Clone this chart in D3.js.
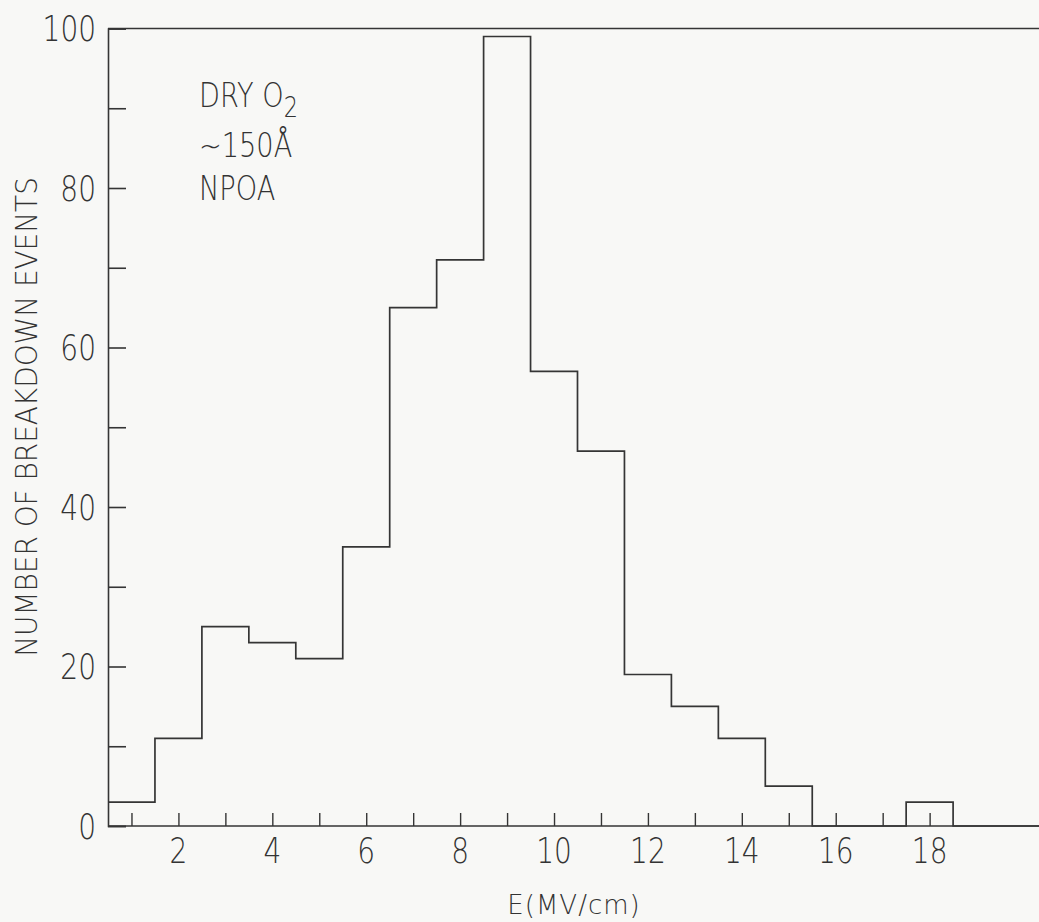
<!DOCTYPE html>
<html>
<head>
<meta charset="utf-8">
<script src="https://cdn.jsdelivr.net/npm/d3@7"></script>
<style>
  html, body { margin: 0; padding: 0; background: #f8f8f6; }
  svg { display: block; }
  text { font-family: "DejaVu Sans", sans-serif; font-weight: 200; fill: #333; }
</style>
</head>
<body>
<svg id="chart" width="1039" height="922"></svg>
<script>
// Breakdown-field histogram: bins are 1 MV/cm wide, centred on whole values.
const binCentres = [1, 2, 3, 4, 5, 6, 7, 8, 9, 10, 11, 12, 13, 14, 15, 16, 17, 18, 19, 20];
const breakdownEvents = [3, 11, 25, 23, 21, 35, 65, 71, 99, 57, 47, 19, 15, 11, 5, 0, 0, 3, 0, 0];

const xTickValues = [1, 2, 3, 4, 5, 6, 7, 8, 9, 10, 11, 12, 13, 14, 15, 16, 17, 18];
const xTickLabels = [2, 4, 6, 8, 10, 12, 14, 16, 18];
const yTickValues = [0, 10, 20, 30, 40, 50, 60, 70, 80, 90, 100];
const yTickLabels = [0, 20, 40, 60, 80, 100];

const annotationLines = ["DRY O", "~150Å", "NPOA"];
const xTitle = "E(MV/cm)";
const yTitle = "NUMBER OF BREAKDOWN EVENTS";

const svg = d3.select("#chart");
const ink = "#353535";
const squeeze = 0.8;   // narrow lettering

const x = d3.scaleLinear().domain([0.5, 20.5]).range([108, 108 + 20 * 46.95]);
const y = d3.scaleLinear().domain([0, 100]).range([826, 28.5]);

// Frame: top border and baseline run off the right edge
svg.append("line")
  .attr("x1", x(0.5)).attr("x2", x(20.5))
  .attr("y1", y(100)).attr("y2", y(100))
  .attr("stroke", ink).attr("stroke-width", 1.6);
svg.append("line")
  .attr("x1", x(0.5)).attr("x2", x(20.5))
  .attr("y1", y(0)).attr("y2", y(0))
  .attr("stroke", ink).attr("stroke-width", 1.6);

// Left axis with inward ticks
const yAxis = d3.axisRight(y).tickValues(yTickValues).tickSize(18).tickFormat("");
const gy = svg.append("g").attr("transform", `translate(${x(0.5)},0)`).call(yAxis);
gy.select(".domain").attr("stroke", ink).attr("stroke-width", 1.6);
gy.selectAll(".tick line").attr("stroke", ink).attr("stroke-width", 1.6);

gy.selectAll(".ylab")
  .data(yTickLabels)
  .join("text")
  .attr("class", "ylab")
  .attr("transform", d => `translate(-12,${y(d)}) scale(${squeeze},1)`)
  .attr("text-anchor", "end")
  .attr("dy", "0.36em")
  .attr("font-size", 35)
  .text(d => d);

// Bottom axis with upward ticks
const xAxis = d3.axisTop(x).tickValues(xTickValues).tickSize(13).tickFormat("");
const gx = svg.append("g").attr("transform", `translate(0,${y(0)})`).call(xAxis);
gx.select(".domain").remove();
gx.selectAll(".tick line").attr("stroke", ink).attr("stroke-width", 1.4);

gx.selectAll(".xlab")
  .data(xTickLabels)
  .join("text")
  .attr("class", "xlab")
  .attr("transform", d => `translate(${x(d)},37) scale(${squeeze},1)`)
  .attr("text-anchor", "middle")
  .attr("font-size", 35)
  .text(d => d);

// Histogram outline as one stepped path
const edges = binCentres.map((c, i) => [c - 0.5, breakdownEvents[i]]);
edges.push([binCentres[binCentres.length - 1] + 0.5, breakdownEvents[breakdownEvents.length - 1]]);
const step = d3.line()
  .x(d => x(d[0]))
  .y(d => y(d[1]))
  .curve(d3.curveStepAfter);
svg.append("path")
  .attr("d", step(edges))
  .attr("fill", "none")
  .attr("stroke", ink)
  .attr("stroke-width", 1.7);

// Axis titles
svg.append("text")
  .attr("transform", "translate(574,914)")
  .attr("text-anchor", "middle")
  .attr("font-size", 26)
  .attr("letter-spacing", 1)
  .text(xTitle);

svg.append("text")
  .attr("transform", "translate(37,417) rotate(-90) scale(0.9,1)")
  .attr("text-anchor", "middle")
  .attr("font-size", 31)
  .text(yTitle);

// Sample description
const note = svg.append("g").attr("transform", "translate(199,0)");
const lineBase = [107, 157, 200];
annotationLines.forEach((t, i) => {
  const tx = note.append("text")
    .attr("transform", `translate(0,${lineBase[i]}) scale(${squeeze},1)`)
    .attr("font-size", 34)
    .text(t);
  if (i === 0) {
    tx.append("tspan").attr("dy", 10).attr("font-size", 28).text("2");
  }
});
</script>
</body>
</html>
